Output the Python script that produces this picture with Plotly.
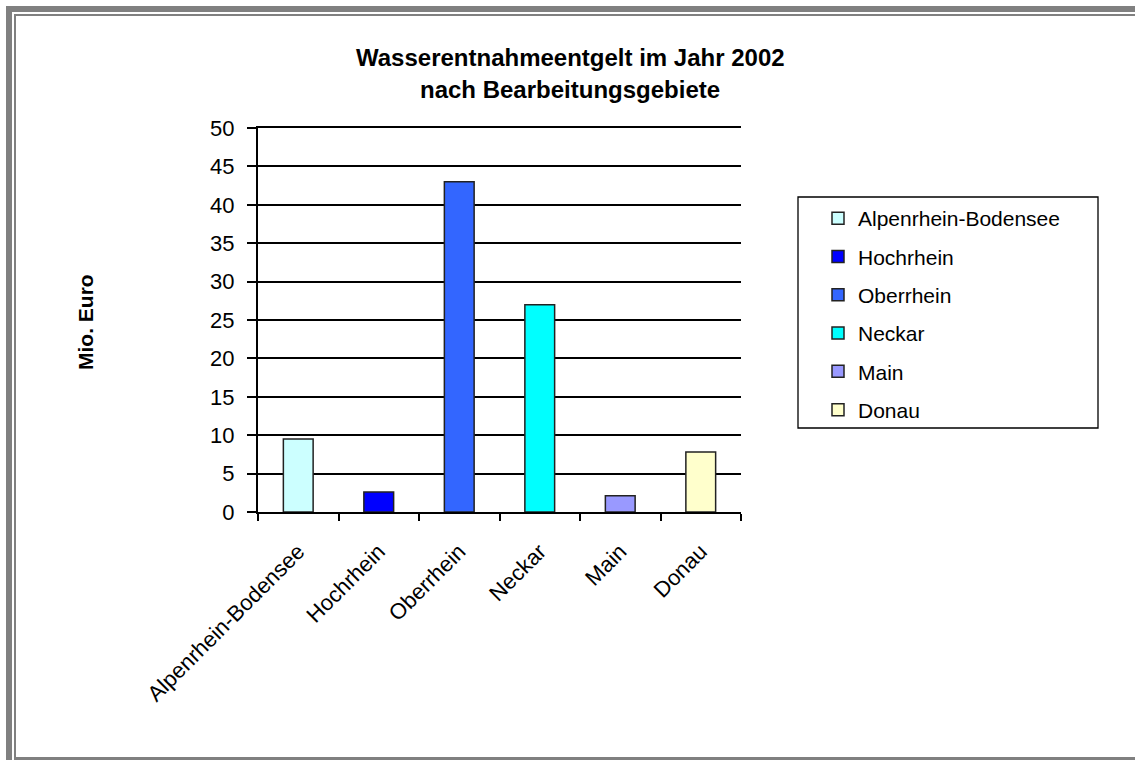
import plotly.graph_objects as go

categories = ["Alpenrhein-Bodensee", "Hochrhein", "Oberrhein", "Neckar", "Main", "Donau"]
values = [9.5, 2.6, 43.0, 27.0, 2.1, 7.8]
colors = ["#CCFFFF", "#0000FF", "#3366FF", "#00FFFF", "#9999FF", "#FFFFCC"]
y_ticks = [0, 5, 10, 15, 20, 25, 30, 35, 40, 45, 50]

W, H = 1135, 760
L, R, T, B = 258, 741, 128, 512


def px(x):
    return (x - L) / (R - L)


def py(y):
    return (B - y) / (B - T)


FONT = "Liberation Sans, Arial, sans-serif"

fig = go.Figure()
for cat, val, col in zip(categories, values, colors):
    fig.add_trace(go.Bar(
        x=[cat], y=[val], name=cat, legendgroup=cat,
        marker=dict(color=col, line=dict(color="#222222", width=1.5)),
        width=0.37,
    ))

shapes = []
grey = "#808080"
# outer frame (left + top thick band, inner thin line, bottom line)
shapes.append(dict(type="rect", xref="paper", yref="paper", x0=px(6), x1=px(12), y0=py(760), y1=py(6),
                   fillcolor=grey, line=dict(width=0), layer="below"))
shapes.append(dict(type="rect", xref="paper", yref="paper", x0=px(6), x1=px(1135), y0=py(12), y1=py(6),
                   fillcolor=grey, line=dict(width=0), layer="below"))
shapes.append(dict(type="rect", xref="paper", yref="paper", x0=px(14), x1=px(16), y0=py(760), y1=py(14),
                   fillcolor=grey, line=dict(width=0), layer="below"))
shapes.append(dict(type="rect", xref="paper", yref="paper", x0=px(14), x1=px(1135), y0=py(16), y1=py(14),
                   fillcolor=grey, line=dict(width=0), layer="below"))
shapes.append(dict(type="rect", xref="paper", yref="paper", x0=px(14), x1=px(1135), y0=py(760), y1=py(757),
                   fillcolor=grey, line=dict(width=0), layer="below"))
# legend box
shapes.append(dict(type="rect", xref="paper", yref="paper", x0=px(798), x1=px(1098), y0=py(428), y1=py(197),
                   fillcolor="rgba(0,0,0,0)", line=dict(color="black", width=1.3)))

annotations = [
    dict(text="<b>Wasserentnahmeentgelt im Jahr 2002</b>", x=px(570), y=py(58), xref="paper", yref="paper",
         showarrow=False, xanchor="center", yanchor="middle", font=dict(family=FONT, size=24, color="black")),
    dict(text="<b>nach Bearbeitungsgebiete</b>", x=px(570), y=py(89), xref="paper", yref="paper",
         showarrow=False, xanchor="center", yanchor="middle", font=dict(family=FONT, size=24, color="black")),
    dict(text="<b>Mio. Euro</b>", x=px(85), y=py(322), xref="paper", yref="paper", textangle=-90,
         showarrow=False, xanchor="center", yanchor="middle", font=dict(family=FONT, size=21, color="black")),
]

fig.update_layout(
    width=W, height=H,
    margin=dict(l=L, r=W - R, t=T, b=H - B, pad=0),
    paper_bgcolor="white", plot_bgcolor="white",
    barmode="overlay",
    showlegend=True,
    font=dict(family=FONT, color="black"),
    legend=dict(
        x=px(818), y=py(198), xanchor="left", yanchor="top",
        bgcolor="rgba(0,0,0,0)", borderwidth=0,
        font=dict(family=FONT, size=21, color="black"),
        tracegroupgap=8, itemclick=False,
    ),
    shapes=shapes,
    annotations=annotations,
)

fig.update_xaxes(
    type="category", categoryorder="array", categoryarray=categories,
    tickson="boundaries", ticks="outside", ticklen=7, tickwidth=2, tickcolor="black",
    showline=True, linecolor="black", linewidth=2, mirror=True,
    tickangle=-45, tickfont=dict(family=FONT, size=22, color="black"),
    ticklabelstandoff=16,
    showgrid=False, zeroline=False,
)
fig.update_yaxes(
    range=[0, 50], tickmode="array", tickvals=y_ticks,
    ticks="outside", ticklen=9, tickwidth=2, tickcolor="black",
    showline=True, linecolor="black", linewidth=2,
    showgrid=True, gridcolor="black", gridwidth=2,
    zeroline=False,
    ticklabelstandoff=8,
    tickfont=dict(family=FONT, size=22, color="black"),
)

fig.write_html(
    "out.html",
    config={"displayModeBar": False},
    post_script="document.body.style.margin='0';document.body.style.overflow='hidden';",
)
